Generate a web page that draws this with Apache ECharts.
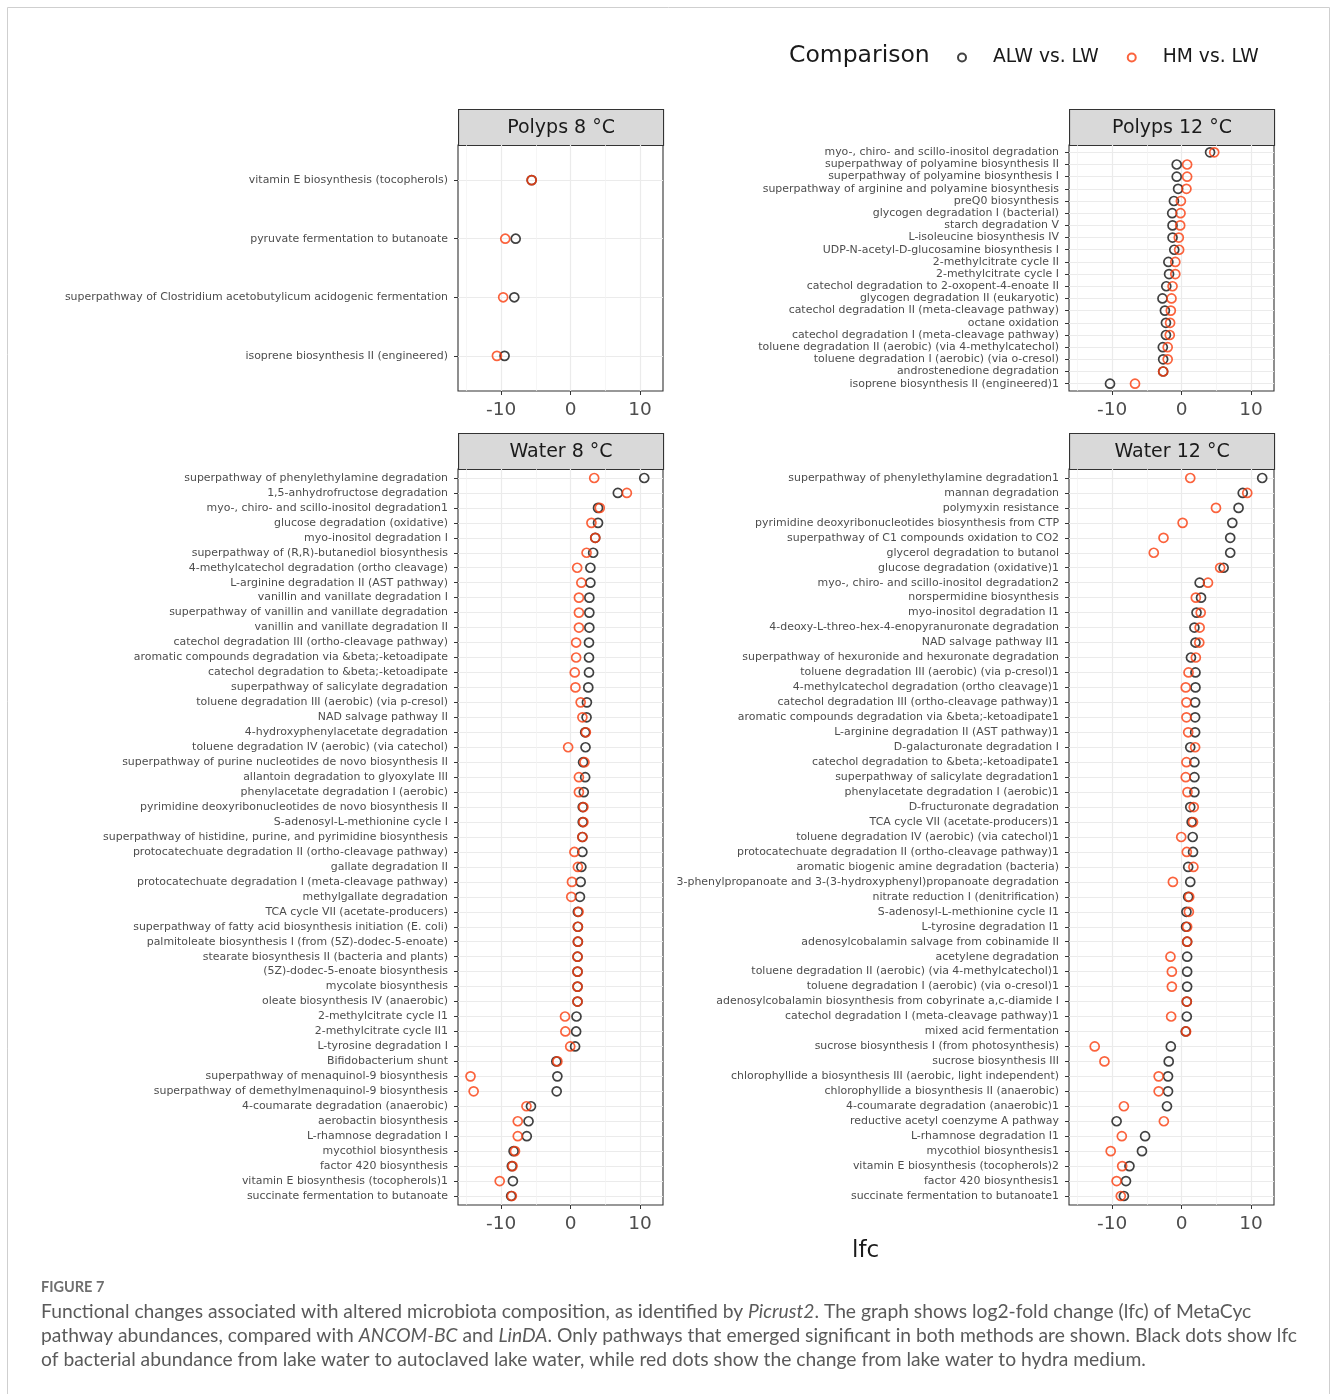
<!DOCTYPE html>
<html>
<head>
<meta charset="utf-8">
<script src="https://cdn.jsdelivr.net/npm/echarts@6/dist/echarts.min.js"></script>
<style>
  html, body { margin: 0; padding: 0; background: #ffffff; }
  #chart { width: 1331px; height: 1394px; }
</style>
</head>
<body>
<div id="chart"></div>
<script>
// ---- Pathway lists and log2-fold changes (lfc) per panel ----
const polyps8Pathways = [
  'vitamin E biosynthesis (tocopherols)',
  'pyruvate fermentation to butanoate',
  'superpathway of Clostridium acetobutylicum acidogenic fermentation',
  'isoprene biosynthesis II (engineered)'
];
const polyps8ALW = [-5.6, -7.9, -8.1, -9.5];
const polyps8HM  = [-5.6, -9.4, -9.7, -10.6];

const polyps12Pathways = [
  'myo-, chiro- and scillo-inositol degradation',
  'superpathway of polyamine biosynthesis II',
  'superpathway of polyamine biosynthesis I',
  'superpathway of arginine and polyamine biosynthesis',
  'preQ0 biosynthesis',
  'glycogen degradation I (bacterial)',
  'starch degradation V',
  'L-isoleucine biosynthesis IV',
  'UDP-N-acetyl-D-glucosamine biosynthesis I',
  '2-methylcitrate cycle II',
  '2-methylcitrate cycle I',
  'catechol degradation to 2-oxopent-4-enoate II',
  'glycogen degradation II (eukaryotic)',
  'catechol degradation II (meta-cleavage pathway)',
  'octane oxidation',
  'catechol degradation I (meta-cleavage pathway)',
  'toluene degradation II (aerobic) (via 4-methylcatechol)',
  'toluene degradation I (aerobic) (via o-cresol)',
  'androstenedione degradation',
  'isoprene biosynthesis II (engineered)1'
];
const polyps12ALW = [4.1, -0.7, -0.7, -0.5, -1.1, -1.35, -1.3, -1.3, -1.05, -1.9, -1.8, -2.2, -2.75, -2.4, -2.25, -2.25, -2.7, -2.65, -2.65, -10.3];
const polyps12HM  = [4.7, 0.8, 0.8, 0.7, -0.1, -0.15, -0.2, -0.4, -0.35, -0.9, -0.9, -1.3, -1.45, -1.55, -1.65, -1.7, -2.0, -2.0, -2.65, -6.7];

const water8Pathways = [
  'superpathway of phenylethylamine degradation',
  '1,5-anhydrofructose degradation',
  'myo-, chiro- and scillo-inositol degradation1',
  'glucose degradation (oxidative)',
  'myo-inositol degradation I',
  'superpathway of (R,R)-butanediol biosynthesis',
  '4-methylcatechol degradation (ortho cleavage)',
  'L-arginine degradation II (AST pathway)',
  'vanillin and vanillate degradation I',
  'superpathway of vanillin and vanillate degradation',
  'vanillin and vanillate degradation II',
  'catechol degradation III (ortho-cleavage pathway)',
  'aromatic compounds degradation via &beta;-ketoadipate',
  'catechol degradation to &beta;-ketoadipate',
  'superpathway of salicylate degradation',
  'toluene degradation III (aerobic) (via p-cresol)',
  'NAD salvage pathway II',
  '4-hydroxyphenylacetate degradation',
  'toluene degradation IV (aerobic) (via catechol)',
  'superpathway of purine nucleotides de novo biosynthesis II',
  'allantoin degradation to glyoxylate III',
  'phenylacetate degradation I (aerobic)',
  'pyrimidine deoxyribonucleotides de novo biosynthesis II',
  'S-adenosyl-L-methionine cycle I',
  'superpathway of histidine, purine, and pyrimidine biosynthesis',
  'protocatechuate degradation II (ortho-cleavage pathway)',
  'gallate degradation II',
  'protocatechuate degradation I (meta-cleavage pathway)',
  'methylgallate degradation',
  'TCA cycle VII (acetate-producers)',
  'superpathway of fatty acid biosynthesis initiation (E. coli)',
  'palmitoleate biosynthesis I (from (5Z)-dodec-5-enoate)',
  'stearate biosynthesis II (bacteria and plants)',
  '(5Z)-dodec-5-enoate biosynthesis',
  'mycolate biosynthesis',
  'oleate biosynthesis IV (anaerobic)',
  '2-methylcitrate cycle I1',
  '2-methylcitrate cycle II1',
  'L-tyrosine degradation I',
  'Bifidobacterium shunt',
  'superpathway of menaquinol-9 biosynthesis',
  'superpathway of demethylmenaquinol-9 biosynthesis',
  '4-coumarate degradation (anaerobic)',
  'aerobactin biosynthesis',
  'L-rhamnose degradation I',
  'mycothiol biosynthesis',
  'factor 420 biosynthesis',
  'vitamin E biosynthesis (tocopherols)1',
  'succinate fermentation to butanoate'
];
const water8ALW = [10.6, 6.8, 3.95, 3.95, 3.55, 3.25, 2.85, 2.85, 2.7, 2.7, 2.7, 2.65, 2.65, 2.65, 2.55, 2.35, 2.3, 2.1, 2.15, 1.8, 2.1, 1.9, 1.75, 1.75, 1.7, 1.7, 1.55, 1.45, 1.35, 1.05, 1.05, 1.05, 1.0, 1.0, 1.0, 1.0, 0.85, 0.8, 0.65, -2.05, -1.9, -2.0, -5.7, -6.05, -6.3, -8.2, -8.45, -8.3, -8.55];
const water8HM  = [3.4, 8.1, 4.2, 3.0, 3.55, 2.3, 0.95, 1.55, 1.2, 1.2, 1.2, 0.8, 0.8, 0.6, 0.7, 1.45, 1.7, 2.2, -0.35, 2.0, 1.2, 1.2, 1.85, 1.85, 1.7, 0.55, 1.05, 0.2, 0.1, 1.15, 1.05, 1.05, 1.0, 1.0, 1.0, 1.0, -0.8, -0.75, -0.05, -1.9, -14.4, -13.95, -6.35, -7.6, -7.6, -8.0, -8.35, -10.2, -8.45];

const water12Pathways = [
  'superpathway of phenylethylamine degradation1',
  'mannan degradation',
  'polymyxin resistance',
  'pyrimidine deoxyribonucleotides biosynthesis from CTP',
  'superpathway of C1 compounds oxidation to CO2',
  'glycerol degradation to butanol',
  'glucose degradation (oxidative)1',
  'myo-, chiro- and scillo-inositol degradation2',
  'norspermidine biosynthesis',
  'myo-inositol degradation I1',
  '4-deoxy-L-threo-hex-4-enopyranuronate degradation',
  'NAD salvage pathway II1',
  'superpathway of hexuronide and hexuronate degradation',
  'toluene degradation III (aerobic) (via p-cresol)1',
  '4-methylcatechol degradation (ortho cleavage)1',
  'catechol degradation III (ortho-cleavage pathway)1',
  'aromatic compounds degradation via &beta;-ketoadipate1',
  'L-arginine degradation II (AST pathway)1',
  'D-galacturonate degradation I',
  'catechol degradation to &beta;-ketoadipate1',
  'superpathway of salicylate degradation1',
  'phenylacetate degradation I (aerobic)1',
  'D-fructuronate degradation',
  'TCA cycle VII (acetate-producers)1',
  'toluene degradation IV (aerobic) (via catechol)1',
  'protocatechuate degradation II (ortho-cleavage pathway)1',
  'aromatic biogenic amine degradation (bacteria)',
  '3-phenylpropanoate and 3-(3-hydroxyphenyl)propanoate degradation',
  'nitrate reduction I (denitrification)',
  'S-adenosyl-L-methionine cycle I1',
  'L-tyrosine degradation I1',
  'adenosylcobalamin salvage from cobinamide II',
  'acetylene degradation',
  'toluene degradation II (aerobic) (via 4-methylcatechol)1',
  'toluene degradation I (aerobic) (via o-cresol)1',
  'adenosylcobalamin biosynthesis from cobyrinate a,c-diamide I',
  'catechol degradation I (meta-cleavage pathway)1',
  'mixed acid fermentation',
  'sucrose biosynthesis I (from photosynthesis)',
  'sucrose biosynthesis III',
  'chlorophyllide a biosynthesis III (aerobic, light independent)',
  'chlorophyllide a biosynthesis II (anaerobic)',
  '4-coumarate degradation (anaerobic)1',
  'reductive acetyl coenzyme A pathway',
  'L-rhamnose degradation I1',
  'mycothiol biosynthesis1',
  'vitamin E biosynthesis (tocopherols)2',
  'factor 420 biosynthesis1',
  'succinate fermentation to butanoate1'
];
const water12ALW = [11.6, 8.8, 8.2, 7.3, 7.0, 7.0, 6.05, 2.6, 2.8, 2.15, 1.85, 2.0, 1.35, 2.0, 2.0, 1.95, 1.95, 1.95, 1.25, 1.85, 1.85, 1.85, 1.25, 1.45, 1.6, 1.65, 0.95, 1.25, 0.95, 0.7, 0.65, 0.8, 0.8, 0.8, 0.8, 0.75, 0.75, 0.6, -1.55, -1.85, -1.95, -1.95, -2.1, -9.35, -5.25, -5.7, -7.5, -8.0, -8.3];
const water12HM  = [1.25, 9.45, 4.95, 0.15, -2.6, -4.0, 5.55, 3.8, 2.05, 2.75, 2.6, 2.55, 2.05, 1.0, 0.6, 0.7, 0.7, 0.95, 1.95, 0.7, 0.6, 0.85, 1.75, 1.65, -0.05, 0.75, 1.7, -1.25, 1.1, 1.05, 0.8, 0.8, -1.6, -1.4, -1.4, 0.75, -1.5, 0.65, -12.5, -11.1, -3.3, -3.3, -8.3, -2.55, -8.6, -10.2, -8.55, -9.35, -8.75];

const panelTitles = ['Polyps 8 °C', 'Polyps 12 °C', 'Water 8 °C', 'Water 12 °C'];
const comparisonNames = ['ALW vs. LW', 'HM vs. LW'];
const xTicks = [-10, 0, 10];
const xMinorTicks = [-15, -5, 5];

// ---- Layout ----
const FONT = '"DejaVu Sans", "Noto Sans", sans-serif';
const CAPTION_FONT = 'Lato, "Open Sans", sans-serif';
const X_MIN = -16.2, X_MAX = 13.3;
const COLORS = ['#111111', '#fa3c0c'];
const STRIP_H = 36;

const panels = [
  { title: panelTitles[0], names: polyps8Pathways,  alw: polyps8ALW,  hm: polyps8HM,  left: 458,  top: 145, width: 205, height: 246 },
  { title: panelTitles[1], names: polyps12Pathways, alw: polyps12ALW, hm: polyps12HM, left: 1069, top: 145, width: 205, height: 246 },
  { title: panelTitles[2], names: water8Pathways,   alw: water8ALW,   hm: water8HM,   left: 458,  top: 469, width: 205, height: 736 },
  { title: panelTitles[3], names: water12Pathways,  alw: water12ALW,  hm: water12HM,  left: 1069, top: 469, width: 205, height: 736 }
];

const grids = [], xAxes = [], yAxes = [], series = [], graphics = [];

panels.forEach((p, k) => {
  const idx = p.names.map((_, i) => i);
  grids.push({
    left: p.left, top: p.top, width: p.width, height: p.height,
    show: true, backgroundColor: '#ffffff', borderColor: '#333333', borderWidth: 1.1
  });
  // main x axis: -10, 0, 10
  xAxes.push({
    type: 'value', gridIndex: k, min: X_MIN, max: X_MAX, position: 'bottom',
    axisLine: { show: false, onZero: false },
    axisTick: { show: true, length: 4, customValues: xTicks, lineStyle: { color: '#333333', width: 1 } },
    axisLabel: { customValues: xTicks, fontFamily: FONT, fontSize: 18.5, color: '#4d4d4d', margin: 10 },
    splitLine: { show: true, lineStyle: { color: '#ebebeb', width: 1.2 } }
  });
  // companion x axis carrying only the minor grid lines
  xAxes.push({
    type: 'value', gridIndex: k, min: X_MIN, max: X_MAX, position: 'bottom',
    axisLine: { show: false, onZero: false },
    axisTick: { show: false, customValues: xMinorTicks },
    axisLabel: { show: false },
    splitLine: { show: true, lineStyle: { color: '#f2f2f2', width: 0.7 } }
  });
  yAxes.push({
    type: 'value', gridIndex: k, inverse: true, position: 'left',
    min: -0.6, max: p.names.length - 0.4,
    axisLine: { show: false, onZero: false },
    axisTick: { show: true, length: 4, customValues: idx, lineStyle: { color: '#333333', width: 1 } },
    axisLabel: {
      customValues: idx, fontFamily: FONT, fontSize: 10.95, color: '#4d4d4d', margin: 10,
      formatter: v => p.names[Math.round(v)]
    },
    splitLine: { show: true, lineStyle: { color: '#ebebeb', width: 1.2 } }
  });
  [p.alw, p.hm].forEach((vals, s) => {
    series.push({
      type: 'scatter', name: comparisonNames[s],
      xAxisIndex: 2 * k, yAxisIndex: k,
      symbol: 'circle', symbolSize: 9,
      itemStyle: { color: 'rgba(255,255,255,0)', borderColor: COLORS[s], borderWidth: 1.7 },
      emphasis: { disabled: true },
      z: 3 + s,
      data: vals.map((v, i) => [v, i])
    });
  });
  // facet strip
  graphics.push({
    type: 'group', left: p.left, top: p.top - STRIP_H, silent: true,
    children: [
      { type: 'rect', shape: { x: 0, y: 0, width: p.width, height: STRIP_H },
        style: { fill: '#d9d9d9', stroke: '#333333', lineWidth: 1.1 } },
      { type: 'text', x: p.width / 2, y: STRIP_H / 2 + 1,
        style: { text: p.title, align: 'center', verticalAlign: 'middle', fontFamily: FONT, fontSize: 19, fill: '#1a1a1a' } }
    ]
  });
});

// outer frame, legend title, axis title and caption
graphics.push(
  { type: 'rect', silent: true, z: -10, shape: { x: 7.5, y: 7.5, width: 1322, height: 1400 },
    style: { fill: 'none', stroke: '#cfcfcf', lineWidth: 1 } },
  { type: 'text', left: 789, top: 44, silent: true,
    style: { text: 'Comparison', fontFamily: FONT, fontSize: 23.5, fill: '#1a1a1a' } },
  { type: 'text', left: 852, top: 1240, silent: true,
    style: { text: 'lfc', fontFamily: FONT, fontSize: 23, fill: '#1a1a1a' } },
  { type: 'text', left: 41, top: 1280, silent: true,
    style: { text: 'FIGURE 7', fontFamily: CAPTION_FONT, fontSize: 14.5, fontWeight: 'bold', fill: '#6f6f6f' } },
  { type: 'text', left: 41, top: 1300, silent: true,
    style: {
      text: [
        'Functional changes associated with altered microbiota composition, as identified by {i|Picrust2}. The graph shows log2-fold change (lfc) of MetaCyc',
        'pathway abundances, compared with {i|ANCOM-BC} and {i|LinDA}. Only pathways that emerged significant in both methods are shown. Black dots show lfc',
        'of bacterial abundance from lake water to autoclaved lake water, while red dots show the change from lake water to hydra medium.'
      ].join('\n'),
      fontFamily: CAPTION_FONT, fontSize: 19.25, lineHeight: 24, fill: '#5a5a5a',
      rich: { i: { fontFamily: CAPTION_FONT, fontSize: 19.25, lineHeight: 24, fontStyle: 'italic', fill: '#5a5a5a' } }
    } }
);

const chart = echarts.init(document.getElementById('chart'), null, { renderer: 'canvas', width: 1331, height: 1394 });
chart.setOption({
  backgroundColor: '#ffffff',
  animation: false,
  legend: {
    data: comparisonNames, left: 952, top: 43, orient: 'horizontal',
    icon: 'circle', itemWidth: 8, itemHeight: 8, itemGap: 28,
    textStyle: { fontFamily: FONT, fontSize: 18.7, color: '#1a1a1a', padding: [0, 0, 0, 22] },
    selectedMode: false
  },
  grid: grids,
  xAxis: xAxes,
  yAxis: yAxes,
  series: series,
  graphic: graphics
});
</script>
</body>
</html>
